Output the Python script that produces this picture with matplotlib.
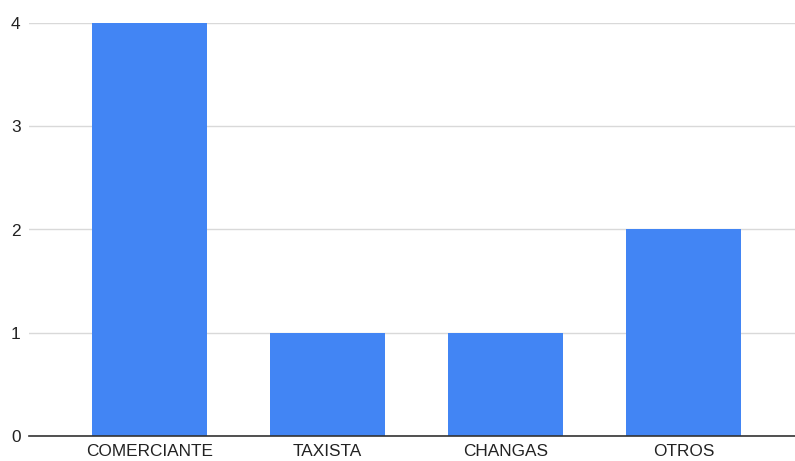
import matplotlib.pyplot as plt

plt.rcParams['font.family'] = ['Liberation Sans', 'DejaVu Sans']

categorias = ['COMERCIANTE', 'TAXISTA', 'CHANGAS', 'OTROS']
cantidad = [4, 1, 1, 2]

fig = plt.figure(figsize=(7.95, 4.61), dpi=100)
ax = fig.add_axes([29/795, 25/461, 766/795, 413/461])

x = range(len(categorias))
ax.bar(x, cantidad, width=0.646, color='#4285f4', zorder=2)

ax.set_xlim(-0.677, 3.626)
ax.set_ylim(0, 4)
ax.set_yticks([0, 1, 2, 3, 4])
ax.set_xticks(list(x))
ax.set_xticklabels(categorias)

ax.grid(axis='y', color='#d9d9d9', linewidth=1, zorder=0)
ax.set_axisbelow(True)
for s in ['top', 'right', 'left']:
    ax.spines[s].set_visible(False)
ax.spines['bottom'].set_color('#333333')
ax.spines['bottom'].set_linewidth(1.2)
ax.spines['bottom'].set_zorder(3)
ax.tick_params(axis='both', length=0, labelsize=12.4, colors='#222222')
ax.tick_params(axis='y', pad=6)
ax.tick_params(axis='x', pad=6)

fig.savefig('out.png', dpi=100)
